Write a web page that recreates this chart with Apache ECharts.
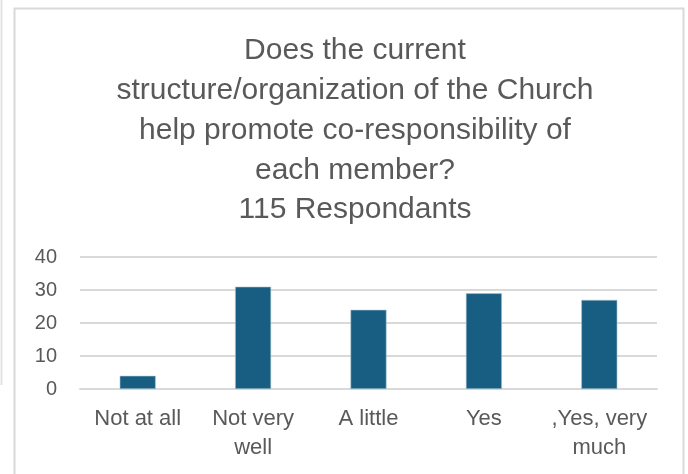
<!DOCTYPE html>
<html lang="en">
<head>
  <meta charset="UTF-8">
  <title>Church co-responsibility survey</title>
  <script src="https://cdn.jsdelivr.net/npm/echarts@6/dist/echarts.min.js"></script>
  <style>
    html, body { margin: 0; padding: 0; background: #fff; }
    #chart { width: 688px; height: 474px; }
  </style>
</head>
<body>
  <div id="chart"></div>
  <script>
    // survey answers and counts (115 respondants)
    var categories = ['Not at all', 'Not very\nwell', 'A little', 'Yes', ',Yes, very\nmuch'];
    var counts = [4, 31, 24, 29, 27];
    var yTicks = [0, 10, 20, 30, 40];

    var titleText = 'Does the current\nstructure/organization of the Church\nhelp promote co-responsibility of\neach member?\n115 Respondants';

    var myChart = echarts.init(document.getElementById('chart'));

    var option = {
      backgroundColor: '#ffffff',
      animation: false,
      textStyle: { fontFamily: 'Liberation Sans, Arial, sans-serif' },
      title: {
        text: titleText,
        left: 350,
        top: 26,
        textAlign: 'center',
        textStyle: {
          color: '#595959',
          fontSize: 30,
          fontWeight: 'normal',
          lineHeight: 39.8
        }
      },
      graphic: [
        { type: 'line', shape: { x1: 1.5, y1: 0, x2: 1.5, y2: 385 }, style: { stroke: '#e3e3e3', lineWidth: 2 } },
        { type: 'rect', shape: { x: 14.5, y: 8.5, width: 669, height: 480 }, style: { fill: 'none', stroke: '#d9d9d9', lineWidth: 2 } }
      ],
      grid: { left: 80, right: 31, top: 257, bottom: 85 },
      xAxis: {
        type: 'category',
        data: categories,
        axisTick: { show: false },
        axisLine: { lineStyle: { color: '#d9d9d9', width: 2 } },
        axisLabel: {
          interval: 0,
          color: '#595959',
          fontSize: 22,
          lineHeight: 29,
          margin: 15
        }
      },
      yAxis: {
        type: 'value',
        min: yTicks[0],
        max: yTicks[yTicks.length - 1],
        interval: 10,
        axisLine: { show: false },
        axisTick: { show: false },
        splitLine: { lineStyle: { color: '#d9d9d9', width: 2 } },
        axisLabel: { color: '#595959', fontSize: 20, margin: 23 }
      },
      series: [{
        type: 'bar',
        data: counts,
        barWidth: 36,
        itemStyle: { color: '#175e82', borderColor: '#a9c3d2', borderWidth: 0.6 }
      }]
    };

    myChart.setOption(option);
  </script>
</body>
</html>
